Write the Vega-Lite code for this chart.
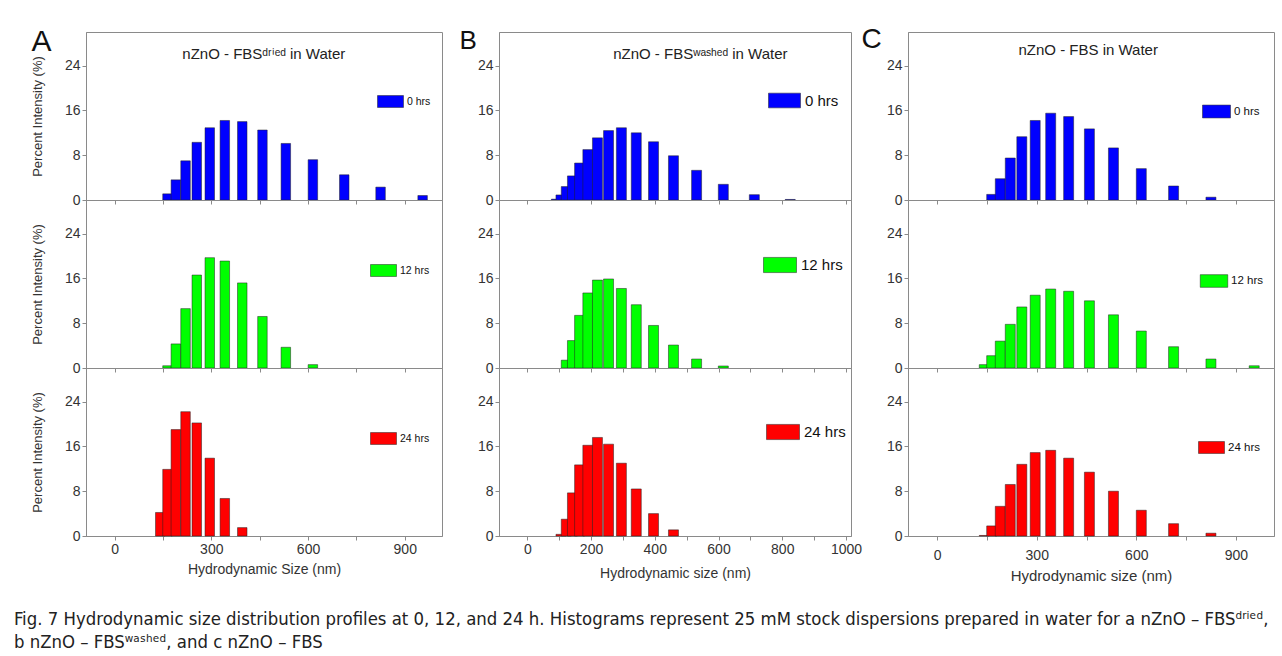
{
  "$schema": "https://vega.github.io/schema/vega-lite/v6.json",
  "background": "white",
  "padding": {"left": 13, "top": 25, "right": 5, "bottom": 5},
  "autosize": {"type": "pad"},
  "datasets": {
    "dls": [
      {"s":"A","t":"0 hrs","size":164.2,"pct":1.1},{"s":"A","t":"0 hrs","size":190.1,"pct":3.6},{"s":"A","t":"0 hrs","size":220.2,"pct":7.0},{"s":"A","t":"0 hrs","size":255.0,"pct":10.3},{"s":"A","t":"0 hrs","size":295.3,"pct":12.9},{"s":"A","t":"0 hrs","size":342.0,"pct":14.2},{"s":"A","t":"0 hrs","size":396.1,"pct":14.0},{"s":"A","t":"0 hrs","size":458.7,"pct":12.5},{"s":"A","t":"0 hrs","size":531.2,"pct":10.1},{"s":"A","t":"0 hrs","size":615.1,"pct":7.2},{"s":"A","t":"0 hrs","size":712.4,"pct":4.5},{"s":"A","t":"0 hrs","size":825.0,"pct":2.3},{"s":"A","t":"0 hrs","size":955.4,"pct":0.8},
      {"s":"A","t":"12 hrs","size":164.2,"pct":0.4},{"s":"A","t":"12 hrs","size":190.1,"pct":4.3},{"s":"A","t":"12 hrs","size":220.2,"pct":10.6},{"s":"A","t":"12 hrs","size":255.0,"pct":16.6},{"s":"A","t":"12 hrs","size":295.3,"pct":19.7},{"s":"A","t":"12 hrs","size":342.0,"pct":19.1},{"s":"A","t":"12 hrs","size":396.1,"pct":15.2},{"s":"A","t":"12 hrs","size":458.7,"pct":9.2},{"s":"A","t":"12 hrs","size":531.2,"pct":3.7},{"s":"A","t":"12 hrs","size":615.1,"pct":0.6},
      {"s":"A","t":"24 hrs","size":141.8,"pct":4.2},{"s":"A","t":"24 hrs","size":164.2,"pct":11.9},{"s":"A","t":"24 hrs","size":190.1,"pct":19.0},{"s":"A","t":"24 hrs","size":220.2,"pct":22.2},{"s":"A","t":"24 hrs","size":255.0,"pct":20.2},{"s":"A","t":"24 hrs","size":295.3,"pct":13.9},{"s":"A","t":"24 hrs","size":342.0,"pct":6.7},{"s":"A","t":"24 hrs","size":396.1,"pct":1.5},
      {"s":"B","t":"0 hrs","size":91.28,"pct":0.15},{"s":"B","t":"0 hrs","size":105.7,"pct":0.9},{"s":"B","t":"0 hrs","size":122.4,"pct":2.4},{"s":"B","t":"0 hrs","size":141.8,"pct":4.3},{"s":"B","t":"0 hrs","size":164.2,"pct":6.6},{"s":"B","t":"0 hrs","size":190.1,"pct":9.0},{"s":"B","t":"0 hrs","size":220.2,"pct":11.1},{"s":"B","t":"0 hrs","size":255.0,"pct":12.4},{"s":"B","t":"0 hrs","size":295.3,"pct":12.9},{"s":"B","t":"0 hrs","size":342.0,"pct":12.0},{"s":"B","t":"0 hrs","size":396.1,"pct":10.4},{"s":"B","t":"0 hrs","size":458.7,"pct":7.9},{"s":"B","t":"0 hrs","size":531.2,"pct":5.3},{"s":"B","t":"0 hrs","size":615.1,"pct":2.8},{"s":"B","t":"0 hrs","size":712.4,"pct":0.95},{"s":"B","t":"0 hrs","size":825.0,"pct":0.1},
      {"s":"B","t":"12 hrs","size":122.4,"pct":1.4},{"s":"B","t":"12 hrs","size":141.8,"pct":4.9},{"s":"B","t":"12 hrs","size":164.2,"pct":9.4},{"s":"B","t":"12 hrs","size":190.1,"pct":13.4},{"s":"B","t":"12 hrs","size":220.2,"pct":15.7},{"s":"B","t":"12 hrs","size":255.0,"pct":15.9},{"s":"B","t":"12 hrs","size":295.3,"pct":14.2},{"s":"B","t":"12 hrs","size":342.0,"pct":11.3},{"s":"B","t":"12 hrs","size":396.1,"pct":7.6},{"s":"B","t":"12 hrs","size":458.7,"pct":4.1},{"s":"B","t":"12 hrs","size":531.2,"pct":1.6},{"s":"B","t":"12 hrs","size":615.1,"pct":0.36},
      {"s":"B","t":"24 hrs","size":105.7,"pct":0.3},{"s":"B","t":"24 hrs","size":122.4,"pct":3.0},{"s":"B","t":"24 hrs","size":141.8,"pct":7.7},{"s":"B","t":"24 hrs","size":164.2,"pct":12.7},{"s":"B","t":"24 hrs","size":190.1,"pct":16.2},{"s":"B","t":"24 hrs","size":220.2,"pct":17.6},{"s":"B","t":"24 hrs","size":255.0,"pct":16.4},{"s":"B","t":"24 hrs","size":295.3,"pct":13.0},{"s":"B","t":"24 hrs","size":342.0,"pct":8.4},{"s":"B","t":"24 hrs","size":396.1,"pct":4.0},{"s":"B","t":"24 hrs","size":458.7,"pct":1.1},
      {"s":"C","t":"0 hrs","size":164.2,"pct":1.0},{"s":"C","t":"0 hrs","size":190.1,"pct":3.8},{"s":"C","t":"0 hrs","size":220.2,"pct":7.5},{"s":"C","t":"0 hrs","size":255.0,"pct":11.3},{"s":"C","t":"0 hrs","size":295.3,"pct":14.2},{"s":"C","t":"0 hrs","size":342.0,"pct":15.5},{"s":"C","t":"0 hrs","size":396.1,"pct":14.9},{"s":"C","t":"0 hrs","size":458.7,"pct":12.7},{"s":"C","t":"0 hrs","size":531.2,"pct":9.3},{"s":"C","t":"0 hrs","size":615.1,"pct":5.6},{"s":"C","t":"0 hrs","size":712.4,"pct":2.5},{"s":"C","t":"0 hrs","size":825.0,"pct":0.5},
      {"s":"C","t":"12 hrs","size":141.8,"pct":0.6},{"s":"C","t":"12 hrs","size":164.2,"pct":2.2},{"s":"C","t":"12 hrs","size":190.1,"pct":4.8},{"s":"C","t":"12 hrs","size":220.2,"pct":7.8},{"s":"C","t":"12 hrs","size":255.0,"pct":10.9},{"s":"C","t":"12 hrs","size":295.3,"pct":13.0},{"s":"C","t":"12 hrs","size":342.0,"pct":14.1},{"s":"C","t":"12 hrs","size":396.1,"pct":13.7},{"s":"C","t":"12 hrs","size":458.7,"pct":12.0},{"s":"C","t":"12 hrs","size":531.2,"pct":9.5},{"s":"C","t":"12 hrs","size":615.1,"pct":6.6},{"s":"C","t":"12 hrs","size":712.4,"pct":3.8},{"s":"C","t":"12 hrs","size":825.0,"pct":1.6},{"s":"C","t":"12 hrs","size":955.4,"pct":0.4},
      {"s":"C","t":"24 hrs","size":141.8,"pct":0.1},{"s":"C","t":"24 hrs","size":164.2,"pct":1.8},{"s":"C","t":"24 hrs","size":190.1,"pct":5.3},{"s":"C","t":"24 hrs","size":220.2,"pct":9.2},{"s":"C","t":"24 hrs","size":255.0,"pct":12.8},{"s":"C","t":"24 hrs","size":295.3,"pct":14.9},{"s":"C","t":"24 hrs","size":342.0,"pct":15.3},{"s":"C","t":"24 hrs","size":396.1,"pct":13.9},{"s":"C","t":"24 hrs","size":458.7,"pct":11.4},{"s":"C","t":"24 hrs","size":531.2,"pct":8.0},{"s":"C","t":"24 hrs","size":615.1,"pct":4.6},{"s":"C","t":"24 hrs","size":712.4,"pct":2.2},{"s":"C","t":"24 hrs","size":825.0,"pct":0.5}
    ]
  },
  "title": {
    "text": ["Fig. 7 Hydrodynamic size distribution profiles at 0, 12, and 24 h. Histograms represent 25 mM stock dispersions prepared in water for a nZnO – FBSᵈʳⁱᵉᵈ,", "b nZnO – FBSʷᵃˢʰᵉᵈ, and c nZnO – FBS"],
    "orient": "bottom", "anchor": "start", "frame": "bounds",
    "font": "Liberation Sans Narrow, DejaVu Sans Condensed, sans-serif",
    "fontSize": 18.4, "fontWeight": "normal", "color": "#222", "lineHeight": 23,
    "offset": 26, "dx": -17
  },
  "columns": 3,
  "spacing": {"row": 0, "column": 57},
  "bounds": "flush",
  "align": "each",
  "resolve": {"scale": {"color": "independent", "x": "independent", "y": "independent"}, "legend": {"color": "independent"}, "axis": {"x": "independent", "y": "independent"}},
  "concat": [
    {
      "width": 356, "height": 168,
      "title": {"text": "A", "anchor": "start", "frame": "bounds", "fontSize": 30, "fontWeight": "normal", "color": "#111", "offset": 0, "baseline": "alphabetic", "dy": 49, "dx": 0},
      "data": {"name": "dls"},
      "layer": [
        {
          "transform": [{"filter": "datum.s == 'A' && datum.t == '0 hrs'"}],
          "mark": {"type": "bar", "orient": "vertical", "size": 9.5, "stroke": "#202020", "strokeWidth": 0.5},
          "encoding": {
            "x": {"field": "size", "type": "quantitative", "scale": {"domain": [-73, 1000], "nice": false, "zero": false}, "axis": {"values": [0,150,300,450,600,750,900], "labels": false, "title": null}},
            "y": {"field": "pct", "type": "quantitative", "scale": {"domain": [0, 30], "nice": false}, "axis": {"values": [0,8,16,24], "title": "Percent Intensity (%)", "titlePadding": 20}},
            "color": {"field": "t", "type": "nominal", "scale": {"domain": ["0 hrs"], "range": ["#0000ff"]}, "legend": {"orient": "none", "legendX": 291, "legendY": 56, "title": null, "symbolType": "M-1,-0.46H1V0.46H-1Z", "symbolSize": 676, "labelFontSize": 10.5, "labelOffset": 3}}
          }
        },
        {
          "data": {"values": [{}]},
          "mark": {"type": "text", "fontSize": 15, "color": "#222", "baseline": "middle"},
          "encoding": {"x": {"datum": 463}, "y": {"datum": 26}, "text": {"value": "nZnO - FBSᵈʳⁱᵉᵈ in Water"}}
        }
      ]
    },
    {
      "width": 352, "height": 168,
      "title": {"text": "B", "anchor": "start", "frame": "bounds", "fontSize": 26, "fontWeight": "normal", "color": "#111", "offset": 0, "baseline": "alphabetic", "dy": 43, "dx": -18},
      "data": {"name": "dls"},
      "layer": [
        {
          "transform": [{"filter": "datum.s == 'B' && datum.t == '0 hrs'"}],
          "mark": {"type": "bar", "orient": "vertical", "size": 10, "stroke": "#202020", "strokeWidth": 0.5},
          "encoding": {
            "x": {"field": "size", "type": "quantitative", "scale": {"domain": [-73, 1000], "nice": false, "zero": false}, "axis": {"values": [0,100,200,300,400,500,600,700,800,900,1000], "labels": false, "title": null}},
            "y": {"field": "pct", "type": "quantitative", "scale": {"domain": [0, 30], "nice": false}, "axis": {"values": [0,8,16,24], "title": null}},
            "color": {"field": "t", "type": "nominal", "scale": {"domain": ["0 hrs"], "range": ["#0000ff"]}, "legend": {"orient": "none", "legendX": 269, "legendY": 52, "title": null, "symbolType": "M-1,-0.46H1V0.46H-1Z", "symbolSize": 1024, "labelFontSize": 15, "labelOffset": 4}}
          }
        },
        {
          "data": {"values": [{}]},
          "mark": {"type": "text", "fontSize": 15, "color": "#222", "baseline": "middle"},
          "encoding": {"x": {"datum": 543}, "y": {"datum": 26}, "text": {"value": "nZnO - FBSʷᵃˢʰᵉᵈ in Water"}}
        }
      ]
    },
    {
      "width": 366, "height": 168,
      "title": {"text": "C", "anchor": "start", "frame": "bounds", "fontSize": 28, "fontWeight": "normal", "color": "#111", "offset": 0, "baseline": "alphabetic", "dy": 44, "dx": -25},
      "data": {"name": "dls"},
      "layer": [
        {
          "transform": [{"filter": "datum.s == 'C' && datum.t == '0 hrs'"}],
          "mark": {"type": "bar", "orient": "vertical", "size": 10, "stroke": "#202020", "strokeWidth": 0.5},
          "encoding": {
            "x": {"field": "size", "type": "quantitative", "scale": {"domain": [-73, 1000], "nice": false, "zero": false}, "axis": {"values": [0,150,300,450,600,750,900], "labels": false, "title": null}},
            "y": {"field": "pct", "type": "quantitative", "scale": {"domain": [0, 30], "nice": false}, "axis": {"values": [0,8,16,24], "title": null}},
            "color": {"field": "t", "type": "nominal", "scale": {"domain": ["0 hrs"], "range": ["#0000ff"]}, "legend": {"orient": "none", "legendX": 294, "legendY": 65, "title": null, "symbolType": "M-1,-0.46H1V0.46H-1Z", "symbolSize": 784, "labelFontSize": 11.5, "labelOffset": 3}}
          }
        },
        {
          "data": {"values": [{}]},
          "mark": {"type": "text", "fontSize": 15, "color": "#222", "baseline": "middle"},
          "encoding": {"x": {"datum": 455}, "y": {"datum": 26.8}, "text": {"value": "nZnO - FBS in Water"}}
        }
      ]
    },
    {
      "width": 356, "height": 168,
      "data": {"name": "dls"},
      "transform": [{"filter": "datum.s == 'A' && datum.t == '12 hrs'"}],
      "mark": {"type": "bar", "orient": "vertical", "size": 9.5, "stroke": "#202020", "strokeWidth": 0.5},
      "encoding": {
        "x": {"field": "size", "type": "quantitative", "scale": {"domain": [-73, 1000], "nice": false, "zero": false}, "axis": {"values": [0,150,300,450,600,750,900], "labels": false, "title": null}},
        "y": {"field": "pct", "type": "quantitative", "scale": {"domain": [0, 30], "nice": false}, "axis": {"values": [0,8,16,24], "title": "Percent Intensity (%)", "titlePadding": 20}},
        "color": {"field": "t", "type": "nominal", "scale": {"domain": ["12 hrs"], "range": ["#00ff00"]}, "legend": {"orient": "none", "legendX": 284, "legendY": 57, "title": null, "symbolType": "M-1,-0.46H1V0.46H-1Z", "symbolSize": 676, "labelFontSize": 10.5, "labelOffset": 3}}
      }
    },
    {
      "width": 352, "height": 168,
      "data": {"name": "dls"},
      "transform": [{"filter": "datum.s == 'B' && datum.t == '12 hrs'"}],
      "mark": {"type": "bar", "orient": "vertical", "size": 10, "stroke": "#202020", "strokeWidth": 0.5},
      "encoding": {
        "x": {"field": "size", "type": "quantitative", "scale": {"domain": [-73, 1000], "nice": false, "zero": false}, "axis": {"values": [0,100,200,300,400,500,600,700,800,900,1000], "labels": false, "title": null}},
        "y": {"field": "pct", "type": "quantitative", "scale": {"domain": [0, 30], "nice": false}, "axis": {"values": [0,8,16,24], "title": null}},
        "color": {"field": "t", "type": "nominal", "scale": {"domain": ["12 hrs"], "range": ["#00ff00"]}, "legend": {"orient": "none", "legendX": 264, "legendY": 48, "title": null, "symbolType": "M-1,-0.46H1V0.46H-1Z", "symbolSize": 1089, "labelFontSize": 15, "labelOffset": 4}}
      }
    },
    {
      "width": 366, "height": 168,
      "data": {"name": "dls"},
      "transform": [{"filter": "datum.s == 'C' && datum.t == '12 hrs'"}],
      "mark": {"type": "bar", "orient": "vertical", "size": 10, "stroke": "#202020", "strokeWidth": 0.5},
      "encoding": {
        "x": {"field": "size", "type": "quantitative", "scale": {"domain": [-73, 1000], "nice": false, "zero": false}, "axis": {"values": [0,150,300,450,600,750,900], "labels": false, "title": null}},
        "y": {"field": "pct", "type": "quantitative", "scale": {"domain": [0, 30], "nice": false}, "axis": {"values": [0,8,16,24], "title": null}},
        "color": {"field": "t", "type": "nominal", "scale": {"domain": ["12 hrs"], "range": ["#00ff00"]}, "legend": {"orient": "none", "legendX": 292, "legendY": 67, "title": null, "symbolType": "M-1,-0.46H1V0.46H-1Z", "symbolSize": 756, "labelFontSize": 11.5, "labelOffset": 3}}
      }
    },
    {
      "width": 356, "height": 168,
      "data": {"name": "dls"},
      "transform": [{"filter": "datum.s == 'A' && datum.t == '24 hrs'"}],
      "mark": {"type": "bar", "orient": "vertical", "size": 9.5, "stroke": "#202020", "strokeWidth": 0.5},
      "encoding": {
        "x": {"field": "size", "type": "quantitative", "scale": {"domain": [-73, 1000], "nice": false, "zero": false}, "axis": {"values": [0,150,300,450,600,750,900], "labelExpr": "datum.value % 300 === 0 ? datum.label : ''", "title": "Hydrodynamic Size (nm)", "titlePadding": 6}},
        "y": {"field": "pct", "type": "quantitative", "scale": {"domain": [0, 30], "nice": false}, "axis": {"values": [0,8,16,24], "title": "Percent Intensity (%)", "titlePadding": 20}},
        "color": {"field": "t", "type": "nominal", "scale": {"domain": ["24 hrs"], "range": ["#ff0000"]}, "legend": {"orient": "none", "legendX": 284, "legendY": 57, "title": null, "symbolType": "M-1,-0.46H1V0.46H-1Z", "symbolSize": 676, "labelFontSize": 10.5, "labelOffset": 3}}
      }
    },
    {
      "width": 352, "height": 168,
      "data": {"name": "dls"},
      "transform": [{"filter": "datum.s == 'B' && datum.t == '24 hrs'"}],
      "mark": {"type": "bar", "orient": "vertical", "size": 10, "stroke": "#202020", "strokeWidth": 0.5},
      "encoding": {
        "x": {"field": "size", "type": "quantitative", "scale": {"domain": [-73, 1000], "nice": false, "zero": false}, "axis": {"values": [0,100,200,300,400,500,600,700,800,900,1000], "format": "d", "labelExpr": "datum.value % 200 === 0 ? datum.label : ''", "title": "Hydrodynamic size (nm)", "titlePadding": 10}},
        "y": {"field": "pct", "type": "quantitative", "scale": {"domain": [0, 30], "nice": false}, "axis": {"values": [0,8,16,24], "title": null}},
        "color": {"field": "t", "type": "nominal", "scale": {"domain": ["24 hrs"], "range": ["#ff0000"]}, "legend": {"orient": "none", "legendX": 267, "legendY": 47, "title": null, "symbolType": "M-1,-0.46H1V0.46H-1Z", "symbolSize": 1089, "labelFontSize": 15, "labelOffset": 4}}
      }
    },
    {
      "width": 366, "height": 168,
      "data": {"name": "dls"},
      "transform": [{"filter": "datum.s == 'C' && datum.t == '24 hrs'"}],
      "mark": {"type": "bar", "orient": "vertical", "size": 10, "stroke": "#202020", "strokeWidth": 0.5},
      "encoding": {
        "x": {"field": "size", "type": "quantitative", "scale": {"domain": [-73, 1000], "nice": false, "zero": false}, "axis": {"values": [0,150,300,450,600,750,900], "labelExpr": "datum.value % 300 === 0 ? datum.label : ''", "title": "Hydrodynamic size (nm)", "titleFontSize": 15, "labelPadding": 8, "titlePadding": 6}},
        "y": {"field": "pct", "type": "quantitative", "scale": {"domain": [0, 30], "nice": false}, "axis": {"values": [0,8,16,24], "title": null}},
        "color": {"field": "t", "type": "nominal", "scale": {"domain": ["24 hrs"], "range": ["#ff0000"]}, "legend": {"orient": "none", "legendX": 290, "legendY": 66, "title": null, "symbolType": "M-1,-0.46H1V0.46H-1Z", "symbolSize": 676, "labelFontSize": 11.5, "labelOffset": 3}}
      }
    }
  ],
  "config": {
    "font": "Liberation Sans, Arial, sans-serif",
    "view": {"stroke": "#8a8a8a", "strokeWidth": 1},
    "axis": {"grid": false, "labelFontSize": 14, "labelColor": "#333", "titleFontSize": 14, "titleFontWeight": "normal", "titleColor": "#333", "domainColor": "#8a8a8a", "tickColor": "#8a8a8a", "tickSize": 4, "labelPadding": 2},
    "axisY": {"titleFontSize": 13},
    "legend": {"labelColor": "#111", "labelFont": "Liberation Sans, Arial, sans-serif", "padding": 0, "symbolStrokeWidth": 0.5}
  }
}
